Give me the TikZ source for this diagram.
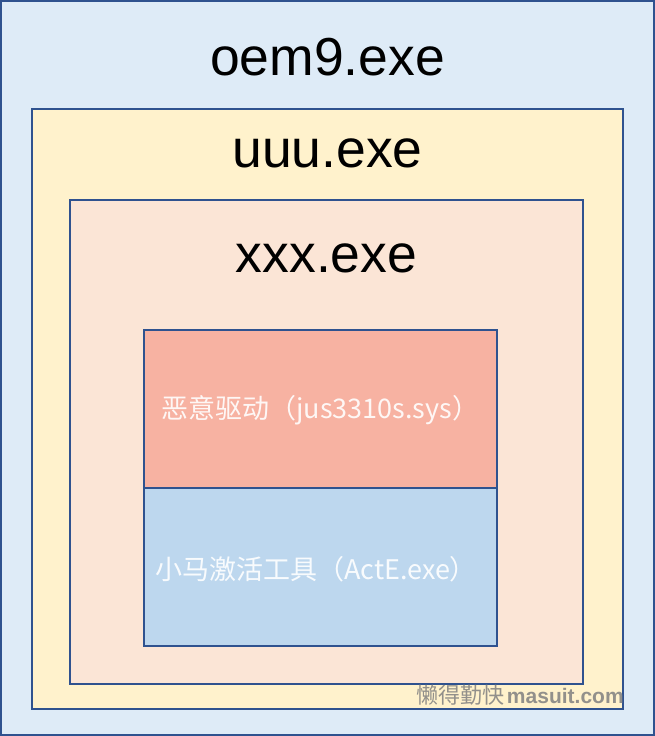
\documentclass[tikz,border=0pt]{standalone}
\usepackage{fontspec}
\setmainfont{Liberation Sans}
\newfontfamily\cjk{Noto Sans CJK SC}
\usetikzlibrary{positioning}
\definecolor{frame}{HTML}{2F528F}
\definecolor{oemfill}{HTML}{DEEBF7}
\definecolor{uuufill}{HTML}{FFF2CC}
\definecolor{xxxfill}{HTML}{FBE5D6}
\definecolor{sysfill}{HTML}{F7B2A2}
\definecolor{actfill}{HTML}{BDD7EE}

\begin{document}
\begin{tikzpicture}[x=1pt,y=-1pt,
		box/.style={shape=rectangle,draw=frame,line width=2pt,inner sep=0pt},
		title/.style={anchor=base,inner sep=0pt,font=\fontsize{53.5}{54}\selectfont},
		inner/.style={anchor=west,inner sep=0pt,text=white,text opacity=0.9,font=\cjk\fontsize{27}{27}\selectfont}]
					\useasboundingbox (0,0) rectangle (655,736);
					\node (oem) [box,fill=oemfill,minimum width=653pt,minimum height=734pt] at (327.5,368) {};
					\node (uuu) [box,fill=uuufill,minimum width=591pt,minimum height=600pt] at (327.5,409) {};
					\node (xxx) [box,fill=xxxfill,minimum width=513pt,minimum height=484pt] at (326.5,442) {};
					\node (sys) [box,fill=sysfill,minimum width=353pt,minimum height=158pt] at (320.5,409) {};
					\node (act) [box,fill=actfill,minimum width=353pt,minimum height=158pt] at (320.5,567) {};

					\node (oemlabel) [title] at (327.5,75) {oem9.exe};
					\node (uuulabel) [title] at (327.5,167) {uuu.exe};
					\node (xxxlabel) [title] at (326.5,272) {xxx.exe};

					\node (syslabel) [inner] at (161,410) {恶意驱动（jus3310s.sys）};
					\node (actlabel) [inner] at (155,569) {小马激活工具（ActE.exe）};

					\node (mark) [anchor=west,inner sep=0pt,text=black!50,text opacity=0.85] at (416,695)
						{{\cjk\fontsize{22}{22}\selectfont 懒得勤快} {\fontsize{21}{21}\selectfont\bfseries masuit.com}};
				\end{tikzpicture}
\end{document}
